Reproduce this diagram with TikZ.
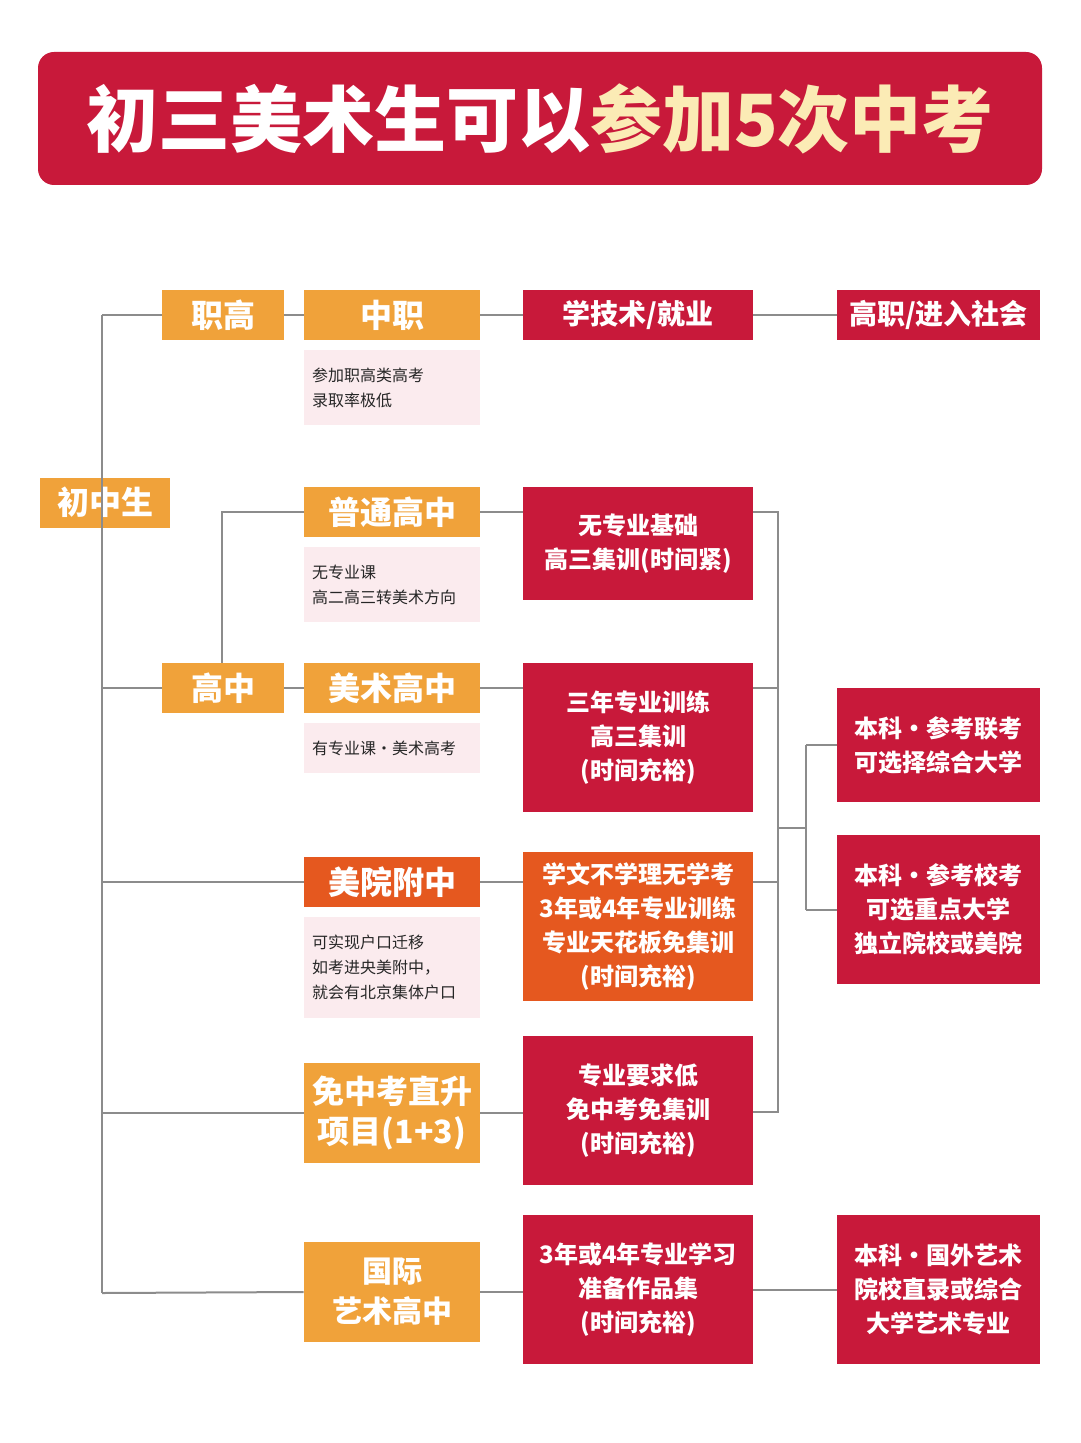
\documentclass[tikz,border=0pt]{standalone}
\usepackage{fontspec}
\setmainfont{Noto Sans CJK SC}
\usetikzlibrary{positioning}
\definecolor{redbox}{HTML}{C8193A}
\definecolor{orangebox}{HTML}{F0A23A}
\definecolor{deeporange}{HTML}{E5581F}
\definecolor{notebg}{HTML}{FBEBEE}
\definecolor{titleyellow}{HTML}{FBEBB5}
\definecolor{linegray}{HTML}{8C8C8C}
\tikzset{
  head/.style={fill=orangebox, text=white, font=\bfseries\fontsize{16}{18}\selectfont, minimum height=25pt, inner sep=0pt},
  redb/.style={fill=redbox, text=white, font=\bfseries\fontsize{12}{17}\selectfont, align=center, inner sep=0pt},
  orb/.style={fill=deeporange, text=white, font=\bfseries\fontsize{12}{17}\selectfont, align=center, inner sep=0pt},
  note/.style={fill=notebg, text=black!85, font=\fontsize{8}{12.5}\selectfont, align=left, text width=80pt, minimum width=88pt, inner sep=4pt},
  link/.style={draw=linegray, line width=1pt}
}
\begin{document}
\begin{tikzpicture}[x=0.5pt,y=-0.5pt]
\useasboundingbox (0,0) rectangle (1080,1443);
% title
\node[fill=redbox, rounded corners=8pt, minimum width=502pt, minimum height=66.5pt, font=\bfseries\fontsize{36}{40}\selectfont] (title) at (540,118.5)
  {\textcolor{white}{初三美术生可以}\textcolor{titleyellow}{参加5次中考}};
% left column
\node[head, minimum width=65pt] (junior) at (105,502.5) {初中生};
\node[head, minimum width=61pt] (zhigao) at (223,315) {职高};
\node[head, minimum width=61pt] (gaozhong) at (223,688) {高中};
% second column
\node[head, minimum width=88pt] (zhongzhi) at (392,315) {中职};
\node[note, minimum height=37.5pt] (note1) at (392,387.5) {参加职高类高考\\录取率极低};
\node[head, minimum width=88pt] (putong) at (392,512) {普通高中};
\node[note, minimum height=37.5pt] (note2) at (392,584.5) {无专业课\\高二高三转美术方向};
\node[head, minimum width=88pt] (meishu) at (392,688) {美术高中};
\node[note, minimum height=25pt] (note3) at (392,748) {有专业课·美术高考};
\node[head, fill=deeporange, minimum width=88pt] (fuzhong) at (392,882) {美院附中};
\node[note, minimum height=50.5pt] (note4) at (392,967.5) {可实现户口迁移\\如考进央美附中，\\就会有北京集体户口};
\node[head, minimum width=88pt, minimum height=50pt, align=center, font=\bfseries\fontsize{16}{20}\selectfont] (mianzk) at (392,1113) {免中考直升\\项目(1+3)};
\node[head, minimum width=88pt, minimum height=50pt, align=center, font=\bfseries\fontsize{15}{20}\selectfont] (guoji) at (392,1292) {国际\\艺术高中};
% third column
\node[redb, minimum width=115pt, minimum height=25pt, font=\bfseries\fontsize{14}{17}\selectfont] (xuejishu) at (638,315) {学技术/就业};
\node[redb, minimum width=115pt, minimum height=56.5pt] (wuzhuanye) at (638,543.5) {无专业基础\\高三集训(时间紧)};
\node[redb, minimum width=115pt, minimum height=74.5pt] (sannian) at (638,737.5) {三年专业训练\\高三集训\\(时间充裕)};
\node[orb, minimum width=115pt, minimum height=74.5pt] (xuewen) at (638,926.5) {学文不学理无学考\\3年或4年专业训练\\专业天花板免集训\\(时间充裕)};
\node[redb, minimum width=115pt, minimum height=74.5pt] (diyao) at (638,1110.5) {专业要求低\\免中考免集训\\(时间充裕)};
\node[redb, minimum width=115pt, minimum height=74.5pt] (xuexi) at (638,1289.5) {3年或4年专业学习\\准备作品集\\(时间充裕)};
% fourth column
\node[redb, minimum width=101.5pt, minimum height=25pt, font=\bfseries\fontsize{14}{17}\selectfont] (gaozhi) at (938.5,315) {高职/进入社会};
\node[redb, minimum width=101.5pt, minimum height=57pt] (liankao) at (938.5,745) {本科·参考联考\\可选择综合大学};
\node[redb, minimum width=101.5pt, minimum height=74.5pt] (xiaokao) at (938.5,909.5) {本科·参考校考\\可选重点大学\\独立院校或美院};
\node[redb, minimum width=101.5pt, minimum height=74.5pt] (guowai) at (938.5,1289.5) {本科·国外艺术\\院校直录或综合\\大学艺术专业};
% connectors
\coordinate (ttop) at (102,315);
\coordinate (tbot) at (102,1293);
\coordinate (subtop) at (222,512);
\coordinate (bra) at (778,512);
\coordinate (brb) at (778,1112);
\coordinate (brm) at (778,828);
\coordinate (bsa) at (806,745);
\coordinate (bsb) at (806,910);
\begin{scope}[on background layer/.style={}]
\draw[link] (ttop) -- (tbot);
\draw[link] (ttop) -- (zhigao.west);
\draw[link] (zhigao) -- (zhongzhi) (zhongzhi) -- (xuejishu) (xuejishu) -- (gaozhi);
\draw[link] (gaozhong.west -| ttop) -- (gaozhong.west);
\draw[link] (gaozhong) -- (meishu);
\draw[link] (gaozhong.north -| subtop) -- (subtop) -- (putong.west);
\draw[link] (fuzhong.west -| ttop) -- (fuzhong.west);
\draw[link] (mianzk.west -| ttop) -- (mianzk.west);
\draw[link] (tbot) -- (guoji.west);
\draw[link] (putong) -- (putong -| wuzhuanye.west);
\draw[link] (meishu) -- (meishu -| sannian.west);
\draw[link] (fuzhong) -- (fuzhong -| xuewen.west);
\draw[link] (mianzk) -- (mianzk -| diyao.west);
\draw[link] (guoji) -- (guoji -| xuexi.west);
\draw[link] (xuexi) -- (guowai);
\draw[link] (bra -| wuzhuanye.east) -- (bra) -- (brb) -- (brb -| diyao.east);
\draw[link] (sannian.east |- 0,688) -- (778,688);
\draw[link] (xuewen.east |- 0,882) -- (778,882);
\draw[link] (brm) -- (brm -| bsa);
\draw[link] (bsa) -- (bsb);
\draw[link] (bsa) -- (liankao.west |- bsa);
\draw[link] (bsb) -- (xiaokao.west |- bsb);
\end{scope}
\end{tikzpicture}
\end{document}
